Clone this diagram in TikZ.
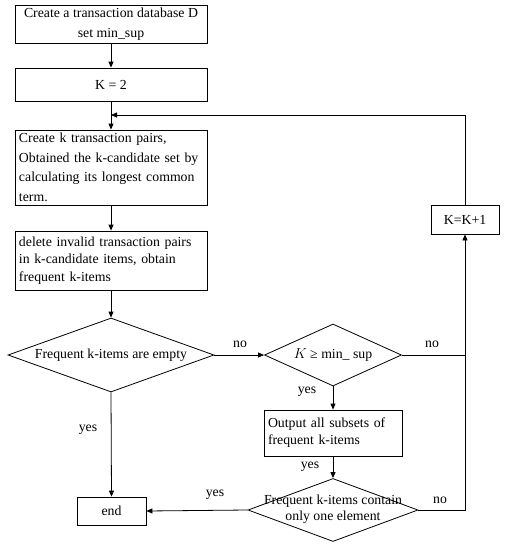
\documentclass[tikz,border=0pt]{standalone}
\usepackage{fontspec}
\setmainfont{Liberation Serif}
\usetikzlibrary{shapes.geometric,arrows.meta}
\begin{document}
\begin{tikzpicture}[x=1pt,y=-1pt,
  box/.style={draw, line width=0.8pt, inner ysep=0pt, inner xsep=4pt, font=\fontsize{13.8}{19.5}\selectfont},
  dia/.style={draw, diamond, inner sep=0pt, line width=0.8pt},
  txt/.style={font=\fontsize{13.8}{19}\selectfont},
  arr/.style={-{Triangle[length=6pt,width=5pt]}, line width=0.8pt},
  ln/.style={line width=0.8pt}]
\useasboundingbox (0,0) rectangle (505,550);
% boxes
\node[box, minimum width=192pt, minimum height=38pt, align=center, font=\fontsize{13.8}{20}\selectfont] (b1) at (111,24) {Create a transaction database D\\set min\_sup};
\node[box, minimum width=192pt, minimum height=33pt] (b2) at (111,84.5) {K = 2};
\node[box, minimum width=192pt, minimum height=75pt, text width=184pt, align=left] (b3) at (111,167.5) {Create k transaction pairs,\\Obtained the k-candidate set by\\calculating its longest common\\term.};
\node[box, minimum width=192pt, minimum height=59pt, text width=184pt, align=left, font=\fontsize{13.8}{17.5}\selectfont] (b4) at (111,260.5) {delete invalid transaction pairs\\in k-candidate items, obtain\\frequent k-items};
\node[dia, minimum width=206pt, minimum height=74pt] (d1) at (111,355) {};
\node[txt] at (d1) {Frequent k-items are empty};
\node[dia, minimum width=137pt, minimum height=62pt] (d2) at (333,355) {};
\node[txt] at (d2) {$K$ \symbol{"2265} min\_ sup};
\node[box, minimum width=68pt, minimum height=29pt] (k) at (465,219.5) {K=K+1};
\node[box, minimum width=138pt, minimum height=46pt, text width=130pt, align=left, font=\fontsize{13.8}{17}\selectfont] (o) at (333,433) {Output all subsets of\\frequent k-items};
\node[dia, minimum width=170pt, minimum height=63pt] (d3) at (333,510) {};
\node[txt, align=center, font=\fontsize{13.8}{16.5}\selectfont] at (333,509) {Frequent k-items contain\\only one element};
\node[box, minimum width=69pt, minimum height=28pt] (e) at (111.5,511) {end};
\coordinate (j) at (111,115);
% connectors
\draw[arr] (b1.south) -- (b2.north);
\draw[arr] (b2.south) -- (b3.north);
\draw[arr] (b3.south) -- (b4.north);
\draw[arr] (b4.south) -- (d1.north);
\draw[arr] (d1.east) -- (d2.west);
\node[txt] at (240,344) {no};
\draw[ln] (d2.east) -- (k.south |- d2.east);
\node[txt] at (432,344) {no};
\draw[arr] (d3.east) -| (k.south);
\node[txt] at (440,500) {no};
\draw[arr] (k.north) |- (j);
\draw[arr] (d1.south) -- (e.north);
\node[txt] at (88,430) {yes};
\draw[arr] (d3.west) -- (e.east);
\node[txt] at (215,495) {yes};
\draw[arr] (d2.south) -- (o.north);
\node[txt] at (307,392) {yes};
\draw[arr] (o.south) -- (d3.north);
\node[txt] at (310,467) {yes};
\end{tikzpicture}
\end{document}
